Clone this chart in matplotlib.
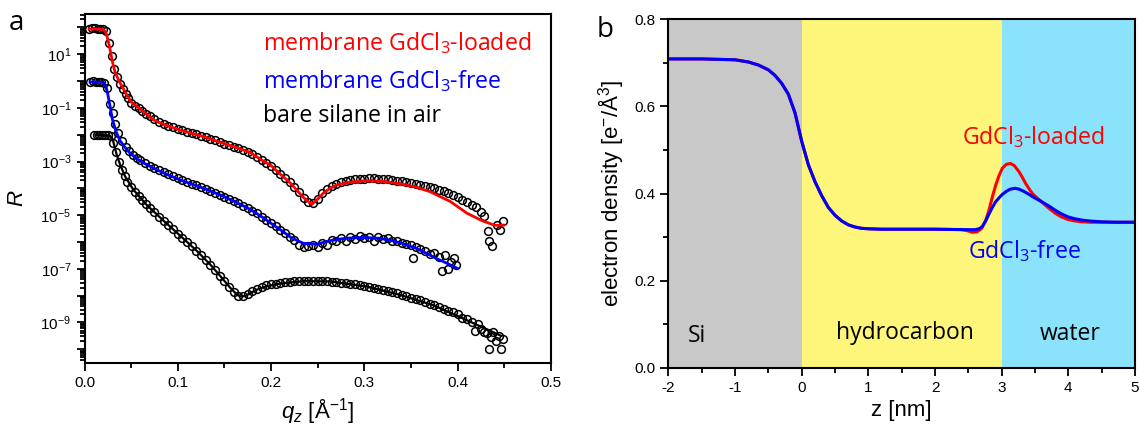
import matplotlib
matplotlib.use('Agg')
import matplotlib.pyplot as plt
from matplotlib.ticker import FixedLocator, LogLocator, NullFormatter, FuncFormatter, FormatStrFormatter
import numpy as np

plt.rcParams['font.family'] = ['Liberation Sans', 'DejaVu Sans']
plt.rcParams['mathtext.fontset'] = 'custom'
plt.rcParams['mathtext.rm'] = 'Liberation Sans'
plt.rcParams['mathtext.it'] = 'Liberation Sans:italic'

TXT_FONT = ['Open Sans', 'DejaVu Sans']

# ---- panel a: reflectivity, values are log10(R) ----
# fits
fit_q_loaded = [0.005, 0.020, 0.023, 0.025, 0.027, 0.030, 0.033, 0.038, 0.045, 0.050, 0.060,
                0.074, 0.085, 0.100, 0.120, 0.127, 0.140, 0.156, 0.177, 0.190, 0.200, 0.210,
                0.220, 0.227, 0.235, 0.2435, 0.250, 0.256, 0.263, 0.270, 0.285, 0.300, 0.320,
                0.340, 0.356, 0.370, 0.392, 0.410, 0.427, 0.440, 0.449]
fit_lr_loaded = [1.94, 1.93, 1.80, 1.55, 1.25, 0.70, 0.30, -0.06, -0.50, -0.78, -1.05,
                 -1.45, -1.62, -1.80, -2.00, -2.06, -2.22, -2.40, -2.65, -2.95, -3.15, -3.48,
                 -3.78, -4.05, -4.35, -4.60, -4.40, -4.18, -4.00, -3.88, -3.77, -3.72, -3.74,
                 -3.84, -3.96, -4.12, -4.49, -4.93, -5.22, -5.38, -5.37]

fit_q_free = [0.006, 0.020, 0.023, 0.025, 0.027, 0.030, 0.034, 0.038, 0.044, 0.0488, 0.057,
              0.0667, 0.080, 0.0916, 0.105, 0.120, 0.135, 0.1488, 0.163, 0.1774, 0.1917,
              0.203, 0.213, 0.222, 0.2345, 0.2488, 0.263, 0.280, 0.299, 0.315, 0.327, 0.340,
              0.356, 0.3775, 0.390, 0.400]
fit_lr_free = [-0.03, -0.05, -0.20, -0.50, -0.87, -1.45, -1.90, -2.22, -2.50, -2.69, -2.92,
               -3.12, -3.35, -3.53, -3.72, -3.90, -4.10, -4.30, -4.53, -4.78, -5.10,
               -5.38, -5.62, -5.85, -6.05, -6.08, -5.95, -5.86, -5.83, -5.86, -5.93, -6.05,
               -6.24, -6.62, -6.82, -6.99]

fit_q_bare = [0.012, 0.027, 0.030, 0.0345, 0.038, 0.0434, 0.0523, 0.0667, 0.0845, 0.1024,
              0.120, 0.1345, 0.145, 0.156, 0.163, 0.1667, 0.172, 0.1845, 0.195, 0.2095,
              0.2345, 0.263, 0.3025, 0.338, 0.374, 0.410, 0.446]
fit_lr_bare = [-2.02, -2.03, -2.15, -2.75, -3.10, -3.55, -4.05, -4.62, -5.20, -5.76,
               -6.32, -6.83, -7.25, -7.70, -7.95, -8.03, -8.02, -7.78, -7.65, -7.55,
               -7.46, -7.47, -7.66, -7.97, -8.36, -8.92, -9.49]

# measured points
q_loaded = [0.005, 0.008, 0.011, 0.014, 0.017, 0.020, 0.023, 0.026, 0.029, 0.032, 0.035,
            0.038, 0.041, 0.044, 0.047, 0.050, 0.054, 0.058, 0.062, 0.066, 0.070, 0.075,
            0.080, 0.085, 0.090, 0.095, 0.100, 0.105, 0.110, 0.115, 0.120, 0.125, 0.130,
            0.135, 0.140, 0.145, 0.150, 0.155, 0.160, 0.165, 0.170, 0.175, 0.180, 0.185,
            0.190, 0.195, 0.200, 0.205, 0.210, 0.215, 0.220, 0.225, 0.230, 0.235, 0.240,
            0.245, 0.250, 0.255, 0.260, 0.265, 0.270, 0.275, 0.280, 0.285, 0.290, 0.295,
            0.300, 0.305, 0.310, 0.315, 0.320, 0.325, 0.330, 0.335, 0.340, 0.345, 0.350,
            0.355, 0.360, 0.365, 0.370, 0.375, 0.380, 0.385, 0.390, 0.395, 0.400, 0.405,
            0.410, 0.415, 0.420, 0.425, 0.428, 0.432, 0.434, 0.437, 0.442, 0.445, 0.448]
lr_loaded = [1.95, 1.97, 1.96, 1.95, 1.94, 1.93, 1.88, 1.40, 0.95, 0.45, 0.15,
             -0.10, -0.30, -0.48, -0.65, -0.80, -0.92, -1.02, -1.12, -1.22, -1.32, -1.42,
             -1.52, -1.60, -1.67, -1.73, -1.78, -1.84, -1.89, -1.94, -1.99, -2.04, -2.09,
             -2.15, -2.21, -2.27, -2.33, -2.39, -2.45, -2.51, -2.58, -2.65, -2.73, -2.83,
             -2.95, -3.06, -3.16, -3.30, -3.46, -3.62, -3.78, -3.96, -4.15, -4.35, -4.50,
             -4.55, -4.40, -4.18, -4.02, -3.92, -3.84, -3.78, -3.73, -3.70, -3.67, -3.66,
             -3.64, -3.63, -3.63, -3.64, -3.65, -3.67, -3.69, -3.71, -3.74, -3.76, -3.80,
             -3.82, -3.86, -3.90, -3.95, -3.99, -4.05, -4.10, -4.16, -4.25, -4.32, -4.42,
             -4.50, -4.62, -4.70, -4.90, -5.02, -5.59, -5.95, -6.15, -5.37, -5.55, -5.20]

q_free = [0.006, 0.009, 0.012, 0.015, 0.018, 0.021, 0.024, 0.027, 0.030, 0.033, 0.036,
          0.040, 0.044, 0.048, 0.052, 0.056, 0.060, 0.065, 0.070, 0.075, 0.080, 0.085,
          0.090, 0.095, 0.100, 0.105, 0.110, 0.115, 0.120, 0.125, 0.130, 0.135, 0.140,
          0.145, 0.150, 0.155, 0.160, 0.165, 0.170, 0.175, 0.180, 0.185, 0.190, 0.195,
          0.200, 0.205, 0.210, 0.215, 0.220, 0.225, 0.230, 0.235, 0.240, 0.245, 0.250,
          0.255, 0.260, 0.265, 0.270, 0.275, 0.280, 0.285, 0.290, 0.295, 0.300, 0.305,
          0.310, 0.315, 0.320, 0.325, 0.330, 0.335, 0.340, 0.345, 0.350, 0.3525, 0.355,
          0.360, 0.365, 0.370, 0.375, 0.380, 0.383, 0.386, 0.390, 0.393, 0.396, 0.398]
lr_free = [-0.02, 0.00, -0.02, -0.03, -0.04, -0.06, -0.25, -0.85, -1.20, -1.60, -1.95,
           -2.25, -2.45, -2.62, -2.75, -2.87, -2.96, -3.06, -3.15, -3.24, -3.32, -3.40,
           -3.48, -3.55, -3.62, -3.68, -3.75, -3.82, -3.88, -3.95, -4.02, -4.09, -4.16,
           -4.23, -4.31, -4.38, -4.46, -4.55, -4.64, -4.73, -4.83, -4.93, -5.05, -5.17,
           -5.30, -5.42, -5.55, -5.68, -5.80, -5.92, -6.10, -6.20, -6.15, -6.12, -6.18,
           -6.05, -6.10, -5.92, -5.95, -5.85, -5.95, -5.80, -5.88, -5.78, -5.85, -5.80,
           -5.95, -5.82, -5.90, -5.86, -5.98, -5.95, -6.02, -6.08, -6.12, -6.59, -6.18,
           -6.28, -6.32, -6.45, -6.42, -6.55, -7.07, -6.47, -7.00, -6.75, -6.60, -6.85]

q_bare = [0.010, 0.013, 0.016, 0.019, 0.022, 0.025, 0.028, 0.031, 0.034, 0.037, 0.040,
          0.043, 0.046, 0.050, 0.054, 0.058, 0.062, 0.066, 0.070, 0.075, 0.080, 0.085,
          0.090, 0.095, 0.100, 0.105, 0.110, 0.115, 0.120, 0.125, 0.130, 0.135, 0.140,
          0.145, 0.150, 0.155, 0.160, 0.165, 0.170, 0.175, 0.180, 0.185, 0.190, 0.195,
          0.200, 0.205, 0.210, 0.215, 0.220, 0.225, 0.230, 0.235, 0.240, 0.245, 0.250,
          0.255, 0.260, 0.265, 0.270, 0.275, 0.280, 0.285, 0.290, 0.295, 0.300, 0.305,
          0.310, 0.315, 0.320, 0.325, 0.330, 0.335, 0.340, 0.345, 0.350, 0.355, 0.360,
          0.365, 0.370, 0.375, 0.380, 0.385, 0.390, 0.395, 0.400, 0.405, 0.410, 0.415,
          0.418, 0.422, 0.425, 0.428, 0.431, 0.433, 0.436, 0.438, 0.441, 0.444, 0.446, 0.448]
lr_bare = [-2.02, -2.00, -2.01, -2.00, -2.01, -2.02, -2.05, -2.30, -2.65, -3.00, -3.30,
           -3.55, -3.75, -3.95, -4.12, -4.30, -4.45, -4.60, -4.72, -4.88, -5.05, -5.21,
           -5.37, -5.53, -5.69, -5.84, -6.00, -6.16, -6.32, -6.48, -6.66, -6.84, -7.03,
           -7.25, -7.47, -7.68, -7.88, -8.00, -8.03, -7.95, -7.82, -7.74, -7.68, -7.62,
           -7.58, -7.55, -7.52, -7.50, -7.48, -7.47, -7.46, -7.45, -7.45, -7.46, -7.45,
           -7.47, -7.46, -7.48, -7.50, -7.52, -7.53, -7.56, -7.58, -7.62, -7.64, -7.68,
           -7.72, -7.75, -7.80, -7.84, -7.88, -7.92, -7.98, -8.02, -8.08, -8.12, -8.18,
           -8.24, -8.30, -8.35, -8.42, -8.50, -8.58, -8.62, -8.70, -8.82, -8.88, -9.00,
           -9.30, -9.05, -9.25, -9.35, -9.40, -9.98, -9.55, -9.35, -9.70, -9.50, -9.99, -9.60]

# ---- panel b: electron density profiles [e/A^3] vs z [nm] ----
z_free = [-2.0, -1.5, -1.0, -0.8, -0.65, -0.5, -0.4, -0.3, -0.2, -0.1, 0.0, 0.1, 0.2, 0.3,
          0.4, 0.5, 0.6, 0.7, 0.8, 0.9, 1.0, 1.2, 1.5, 2.0, 2.5, 2.6, 2.66, 2.71, 2.76,
          2.81, 2.86, 2.91, 2.96, 3.01, 3.07, 3.13, 3.2, 3.26, 3.33, 3.4, 3.46, 3.53, 3.6,
          3.7, 3.81, 3.9, 4.0, 4.1, 4.2, 4.31, 4.5, 4.7, 5.0]
rho_free = [0.709, 0.709, 0.707, 0.702, 0.695, 0.684, 0.671, 0.653, 0.628, 0.585, 0.520,
            0.466, 0.427, 0.395, 0.368, 0.350, 0.337, 0.328, 0.323, 0.320, 0.319, 0.318,
            0.318, 0.318, 0.317, 0.317, 0.319, 0.324, 0.337, 0.353, 0.368, 0.381, 0.390,
            0.398, 0.405, 0.410, 0.412, 0.410, 0.405, 0.399, 0.393, 0.387, 0.381, 0.372,
            0.361, 0.353, 0.346, 0.342, 0.339, 0.337, 0.335, 0.334, 0.334]
z_loaded = [-2.0, -1.5, -1.0, -0.8, -0.65, -0.5, -0.4, -0.3, -0.2, -0.1, 0.0, 0.1, 0.2, 0.3,
            0.4, 0.5, 0.6, 0.7, 0.8, 0.9, 1.0, 1.2, 1.5, 2.0, 2.4, 2.5, 2.56, 2.63, 2.7,
            2.76, 2.81, 2.86, 2.91, 2.96, 3.01, 3.07, 3.13, 3.19, 3.26, 3.31, 3.36, 3.41,
            3.46, 3.53, 3.6, 3.7, 3.81, 3.9, 4.0, 4.1, 4.2, 4.35, 5.0]
rho_loaded = [0.709, 0.709, 0.707, 0.702, 0.695, 0.684, 0.671, 0.653, 0.628, 0.585, 0.520,
              0.466, 0.427, 0.395, 0.368, 0.350, 0.337, 0.328, 0.323, 0.320, 0.319, 0.318,
              0.318, 0.318, 0.317, 0.314, 0.311, 0.312, 0.320, 0.338, 0.362, 0.392, 0.419,
              0.441, 0.458, 0.467, 0.469, 0.464, 0.450, 0.437, 0.423, 0.411, 0.400, 0.390,
              0.381, 0.367, 0.354, 0.346, 0.340, 0.337, 0.335, 0.334, 0.334]

regions = ['Si', 'hydrocarbon', 'water']
region_edges = [-2, 0, 3, 5]
region_colors = ['#c8c8c8', '#fdf67a', '#8be3fb']

RED = '#ff0000'
BLUE = '#0000ff'

fig = plt.figure(figsize=(11.39, 4.25), dpi=100)
axa = fig.add_axes([0.0742, 0.1466, 0.4096, 0.8205])
axb = fig.add_axes([0.5868, 0.1348, 0.4097, 0.8198])

for ax in (axa, axb):
    for sp in ax.spines.values():
        sp.set_linewidth(1.5)
    ax.tick_params(which='both', direction='out', width=1.3, labelsize=11,
                   top=False, right=False)
    ax.tick_params(which='major', length=6)
    ax.tick_params(which='minor', length=3.5)

# panel a
def R(lr):
    return 10.0 ** np.array(lr)

mk = dict(ls='none', marker='o', ms=5.6, mfc='none', mec='black', mew=1.1)
axa.plot(q_loaded, R(lr_loaded), **mk)
axa.plot(q_free, R(lr_free), **mk)
axa.plot(q_bare, R(lr_bare), **mk)
axa.plot(fit_q_loaded, R(fit_lr_loaded), color=RED, lw=2.0)
axa.plot(fit_q_free, R(fit_lr_free), color=BLUE, lw=2.0)
axa.plot(fit_q_bare, R(fit_lr_bare), color='black', lw=1.6)

axa.set_yscale('log')
axa.set_xlim(0, 0.5)
axa.set_ylim(10 ** -10.5, 10 ** 2.5)
axa.xaxis.set_major_locator(FixedLocator([0.0, 0.1, 0.2, 0.3, 0.4, 0.5]))
axa.xaxis.set_minor_locator(FixedLocator([0.05, 0.15, 0.25, 0.35, 0.45]))
axa.xaxis.set_major_formatter(FormatStrFormatter('%.1f'))
axa.yaxis.set_major_locator(FixedLocator([10.0 ** k for k in range(-10, 3)]))
axa.yaxis.set_minor_locator(LogLocator(base=10, subs=np.arange(2, 10), numticks=30))
axa.yaxis.set_minor_formatter(NullFormatter())


def log_label(v, pos):
    k = int(round(np.log10(v)))
    return '' if k % 2 == 0 else r'10$^{\mathregular{%d}}$' % k


axa.yaxis.set_major_formatter(FuncFormatter(log_label))
axa.set_xlabel(r'$q_z$ [Å$^{\mathregular{-1}}$]', fontsize=16)
axa.set_ylabel(r'$R$', fontsize=16)
axa.xaxis.set_label_coords(0.5, -0.095)
axa.yaxis.set_label_coords(-0.121, 0.47)

axa.text(0.383, 0.897, r'membrane GdCl$\mathregular{_3}$-loaded', transform=axa.transAxes,
         ha='left', va='baseline', color=RED, fontsize=16.7, family=TXT_FONT)
axa.text(0.383, 0.787, r'membrane GdCl$\mathregular{_3}$-free', transform=axa.transAxes,
         ha='left', va='baseline', color=BLUE, fontsize=16.7, family=TXT_FONT)
axa.text(0.383, 0.691, 'bare silane in air', transform=axa.transAxes,
         ha='left', va='baseline', color='black', fontsize=16.7, family=TXT_FONT)

# panel b
for name, lo, hi, c in zip(regions, region_edges[:-1], region_edges[1:], region_colors):
    axb.axvspan(lo, hi, color=c, lw=0, zorder=0)
axb.plot(z_loaded, rho_loaded, color=RED, lw=2.2)
axb.plot(z_free, rho_free, color=BLUE, lw=2.2)

axb.set_xlim(-2, 5)
axb.set_ylim(0, 0.8)
axb.xaxis.set_major_locator(FixedLocator([-2, -1, 0, 1, 2, 3, 4, 5]))
axb.xaxis.set_minor_locator(FixedLocator([-1.5, -0.5, 0.5, 1.5, 2.5, 3.5, 4.5]))
axb.yaxis.set_major_locator(FixedLocator([0.0, 0.2, 0.4, 0.6, 0.8]))
axb.yaxis.set_minor_locator(FixedLocator([0.1, 0.3, 0.5, 0.7]))
axb.yaxis.set_major_formatter(FormatStrFormatter('%.1f'))
axb.xaxis.set_major_formatter(FormatStrFormatter('%d'))
axb.set_xlabel('z [nm]', fontsize=16)
axb.set_ylabel(r'electron density [e$^{\mathregular{-}}$/Å$^{\mathregular{3}}$]', fontsize=16)
axb.xaxis.set_label_coords(0.5, -0.093)
axb.yaxis.set_label_coords(-0.091, 0.5)

axb.text(-1.57, 0.058, 'Si', ha='center', va='baseline', fontsize=16.5, family=TXT_FONT)
axb.text(1.55, 0.065, 'hydrocarbon', ha='center', va='baseline', fontsize=16.5, family=TXT_FONT)
axb.text(4.03, 0.063, 'water', ha='center', va='baseline', fontsize=16.5, family=TXT_FONT)
axb.text(3.47, 0.514, r'GdCl$\mathregular{_3}$-loaded', ha='center', va='baseline',
         color=RED, fontsize=16.7, family=TXT_FONT)
axb.text(3.34, 0.251, r'GdCl$\mathregular{_3}$-free', ha='center', va='baseline',
         color=BLUE, fontsize=16.7, family=TXT_FONT)

fig.text(16 / 1139, 1 - 30 / 425, 'a', fontsize=20, family=TXT_FONT, ha='center', va='baseline')
fig.text(605 / 1139, 1 - 37 / 425, 'b', fontsize=20, family=TXT_FONT, ha='center', va='baseline')

fig.savefig('out.png', dpi=100)
